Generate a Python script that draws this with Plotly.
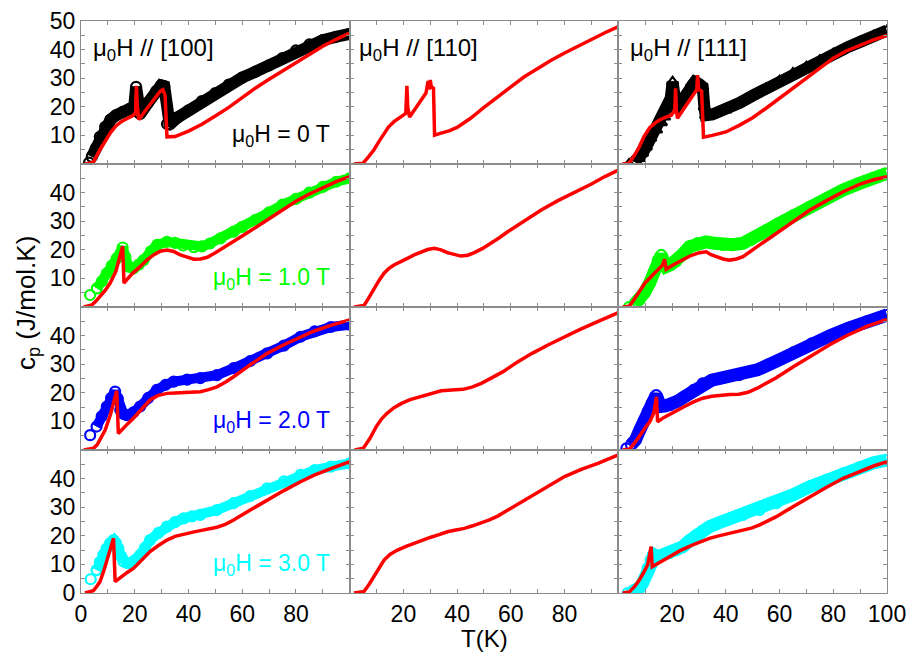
import plotly.graph_objects as go
from plotly.subplots import make_subplots

# ---------------- field along [100] ----------------
T_exp_100_0T = [3, 4, 5.5, 7, 9, 11, 13, 15.5, 18, 19.8, 20.5, 21.3, 22, 25, 28, 29.8, 31, 32,
                33, 36, 40, 45, 50, 55, 60, 65, 70, 75, 80, 85, 90, 95, 100]
cp_exp_100_0T = [0.5, 2.5, 5.5, 9.5, 13, 15.5, 17, 18.2, 19.2, 20, 27, 18, 17.5, 21.5, 25.5, 27.5, 27.2, 14,
                 13.8, 16.3, 18.8, 22, 24.8, 27.8, 30.2, 32.3, 34.5, 37, 39.7, 41.8, 43.3, 44.5, 45.5]
T_calc_100_0T = [1.5, 4.5, 7, 9, 11, 13, 15, 17, 19.5, 20.3, 20.6, 21, 21.5, 24, 27, 29.5, 30.5, 31.3,
                 32, 35, 40, 45, 50, 55, 60, 65, 70, 75, 80, 85, 90, 95, 100]
cp_calc_100_0T = [0, 0.5, 4.9, 8, 11, 13.3, 14.8, 15.8, 17, 18, 27.3, 20, 15.5, 18.7, 22.5, 25.5, 26, 24,
                  9.5, 9.6, 11.5, 13.9, 16.8, 19.8, 23.2, 26.6, 29.6, 32.5, 35.2, 38.3, 41.2, 43.6, 45.8]

T_exp_100_1T = [3.4, 5.9, 7.8, 9.6, 11.5, 13.3, 15.5, 16.5, 17.7, 19.5, 21.5, 23.3, 26, 28.3, 32, 35,
                38, 42, 45, 48, 51.9, 56.8, 60, 65, 70, 75, 80, 85, 90, 95, 100]
cp_exp_100_1T = [4.2, 6.5, 9, 11.8, 14.5, 17, 20.8, 17.5, 14.1, 13.5, 14.8, 16.4, 19.5, 21.7, 22.8, 22.4,
                 21.5, 20.9, 21.2, 22.2, 24, 26.3, 28, 30.5, 33.1, 35.8, 37.8, 40, 42, 43.8, 45]
T_calc_100_1T = [1, 4, 5.5, 7.1, 9, 10.8, 13, 15.5, 16, 17, 19, 22, 24.5, 27, 29.5, 32, 34.5, 37, 39.5,
                 42, 44.5, 47, 50, 55, 60, 65, 70, 75, 80, 85, 90, 95, 100]
cp_calc_100_1T = [0, 0.7, 2, 3.6, 5.8, 8.3, 12.5, 21.3, 8.3, 9.5, 11.6, 14.1, 16.4, 18.2, 19.5, 19.9, 19.4,
                  18.2, 17.3, 16.7, 16.8, 17.4, 19, 21.8, 24.8, 27.8, 30.9, 34, 37, 39.5, 41.7, 43.8, 45.6]

T_exp_100_2T = [3.4, 5.8, 7.7, 9.6, 11.2, 12.7, 13.7, 14.6, 15.8, 17, 19.5, 22, 25, 28.2, 31.5, 34.5,
                39.5, 44.4, 50.6, 56.8, 63, 69.3, 75.5, 81.7, 87, 93, 100]
cp_exp_100_2T = [5.2, 8.2, 11.8, 15.2, 18.2, 20.4, 18, 14, 12.6, 12.2, 13.2, 15.2, 18.2, 21, 22.8, 23.9,
                 24.6, 25.1, 26.2, 28.6, 31.1, 33.8, 36.5, 39.6, 41.5, 43, 43.8]
T_calc_100_2T = [1, 4.6, 6, 7.1, 9, 11, 13.3, 13.9, 15.5, 17.5, 19.5, 22.5, 25.7, 28.5, 32, 35, 38.2,
                 41.3, 44.4, 47.5, 50.6, 53.7, 56.8, 63, 69.3, 75.5, 81.7, 87, 93, 100]
cp_calc_100_2T = [0, 0.6, 1.8, 3.5, 7, 12.5, 20.7, 5.8, 7.5, 9.3, 11.1, 14.4, 17.5, 19, 19.8, 19.9, 20,
                  20.1, 20.4, 21.1, 22.1, 23.7, 25.6, 29.8, 33.8, 36.8, 39.6, 41.7, 43.6, 45.5]

T_exp_100_3T = [3.6, 5.8, 7, 8.3, 9.5, 10.8, 12.1, 13, 13.9, 15, 15.8, 17, 18.3, 20, 22, 23.8, 25.7,
                28.8, 32, 35, 38.2, 41.3, 44.4, 50.6, 56.8, 63, 69.3, 75.5, 81.7, 87, 93, 100]
cp_exp_100_3T = [4.8, 8, 10.8, 13.3, 15.5, 17.4, 18.5, 17.5, 15.6, 12.8, 11, 10.5, 10.4, 11.3, 13.3, 15.8,
                 18.5, 21, 23.2, 24.8, 26.1, 26.8, 27.3, 29, 31.4, 33.9, 36.6, 39, 41.3, 43, 44.2, 45.3]
T_calc_100_3T = [1.5, 4.6, 6, 7.1, 8.5, 10, 12.1, 12.7, 15, 17.2, 19.5, 22.6, 25.7, 28.8, 32, 35, 38.2,
                 41.3, 44.4, 47.5, 50.6, 53.7, 56.8, 63, 69.3, 75.5, 81.7, 87, 93, 100]
cp_calc_100_3T = [0, 0.8, 2.5, 4, 7.8, 12.2, 19.1, 4, 5.8, 7.2, 8.6, 11.5, 14.5, 16.6, 18.5, 19.8, 20.6,
                  21.2, 21.8, 22.3, 23, 24, 25.5, 29, 32.5, 35.8, 38.9, 41.3, 43.5, 45.9]

# ---------------- field along [110] (calculation only) ----------------
T_calc_110_0T = [1.5, 5, 7, 9, 11, 12.8, 14.5, 16.5, 18.5, 20.9, 21.3, 21.6, 22.3, 25, 28.4, 29.2, 29.6,
                 30, 30.4, 31.2, 31.6, 34, 37, 40, 42.5, 45, 50, 55, 60, 65, 70, 75, 80, 85, 90, 95, 100]
cp_calc_110_0T = [0, 0.3, 2.5, 4.9, 8, 10.8, 13, 14.8, 16.2, 17.7, 27.3, 20, 16.4, 20, 24.8, 29, 26, 29.4,
                  27, 26.5, 10.1, 10.8, 11.6, 12.8, 14.3, 16, 19.8, 23.5, 27, 30.5, 33.5, 36.3, 38.8, 41.2,
                  43.6, 45.9, 48]
T_calc_110_1T = [1.6, 5.3, 7, 9.1, 11, 12.8, 14.5, 16.5, 19, 21.5, 24, 26.5, 29, 31.5, 34, 36.4, 39,
                 41.4, 44, 46.4, 49.5, 52.6, 55.7, 58.8, 65, 71.3, 77.5, 83.7, 90, 95, 100]
cp_calc_110_1T = [0, 0.5, 3, 6.5, 9.4, 11.8, 13.4, 14.7, 16, 17, 18.2, 19.3, 20.1, 20.5, 20, 19, 18.3,
                  17.8, 18.1, 19, 20.5, 22.3, 24.2, 26.3, 30.2, 33.9, 37.2, 40, 43, 45.6, 47.9]
T_calc_110_2T = [1.8, 5.1, 7.5, 9.9, 12, 13.9, 16.5, 19.3, 22.5, 26, 30, 34.1, 38, 42.2, 45.5, 49, 53,
                 57.1, 62.5, 67.9, 74, 80, 85.4, 90.8, 95.5, 100]
cp_calc_110_2T = [0, 0.6, 4, 8.2, 11, 12.8, 14.8, 16.3, 17.6, 18.6, 19.8, 20.7, 21, 21.2, 22, 23.3, 25.3,
                  27.4, 30.8, 33.8, 36.8, 39.6, 42, 44.3, 46.2, 48]
T_calc_110_3T = [1.6, 5.3, 7.2, 9.1, 11, 12.8, 15, 17.8, 21, 24, 27, 30.2, 33.3, 36.4, 39.5, 42.7, 45.8,
                 48.9, 52, 55.1, 58.2, 61.3, 64.4, 67.5, 73.8, 80, 86.2, 92.4, 100]
cp_calc_110_3T = [0, 0.5, 3, 5.7, 8.8, 11.5, 13.5, 15, 16.3, 17.4, 18.5, 19.5, 20.4, 21.4, 22, 22.6, 23.5,
                  24.4, 25.6, 26.9, 28.6, 30.2, 32, 33.7, 37.2, 40.7, 43.2, 45.3, 48.3]

# ---------------- field along [111] ----------------
T_exp_111_0T = [4, 6, 7.8, 9, 10.4, 12, 14.2, 16, 17.2, 18.5, 19.5, 20.2, 20.8, 21.6, 24, 27.2, 28.5, 30,
                31.4, 32, 32.5, 35, 40, 45, 50, 55, 60, 65, 70, 75, 80, 85, 90, 95, 100]
cp_exp_111_0T = [0, 0.8, 2, 3.8, 6, 9, 11.9, 14.5, 16.5, 19, 23, 28.7, 22, 18.9, 22.5, 28.2, 28.7, 28, 27,
                 20, 17, 17.3, 18.9, 21.3, 23.9, 26.4, 29.1, 31.8, 34, 36.3, 38.5, 40.7, 42.7, 44.8, 46.7]
T_calc_111_0T = [1.5, 4, 6, 7.8, 9.5, 11.6, 13.5, 15.3, 17.5, 19.8, 21, 21.3, 21.6, 22, 25, 28.4, 29.2,
                 29.5, 29.9, 31, 31.7, 35, 40, 45, 50, 55, 60, 65, 70, 75, 80, 85, 90, 95, 100]
cp_calc_111_0T = [0, 0.3, 3, 6, 9.5, 12.6, 14.2, 15.4, 16.3, 17.1, 19, 26.5, 19, 16, 20.2, 25.2, 26, 31.1,
                  26, 25.5, 9.4, 10, 11.2, 13.5, 16.2, 19.5, 23, 26.5, 30.2, 33.8, 37, 39.6, 41.6, 43.4, 45]

T_exp_111_1T = [4, 6, 7.8, 9.7, 11.6, 13.2, 14.7, 16, 16.8, 17.8, 19.5, 21.5, 24, 26.5, 29.5, 32.7, 35.8,
                38.9, 42.5, 46.4, 49.5, 52.6, 55.7, 58.8, 65, 71.3, 77.5, 83.7, 90, 95, 100]
cp_exp_111_1T = [0, 1, 2.4, 5, 8.3, 12.2, 16.4, 18.2, 16, 14.1, 14.8, 15.9, 18.5, 21.1, 22.3, 22.8, 22.3,
                 21.7, 21.8, 22.3, 23.5, 25.2, 27, 28.7, 32, 35.1, 38, 40.9, 43.3, 45.2, 46.7]
T_calc_111_1T = [1.6, 4.1, 6, 7.8, 10, 12.8, 14.5, 16.5, 17.2, 17.8, 20, 24, 27, 30.2, 32.7, 34.5, 36.4,
                 39, 41.4, 44, 46.4, 49.5, 52.6, 55.7, 58.8, 65, 71.3, 77.5, 83.7, 90, 95, 100]
cp_calc_111_1T = [0, 0.3, 2.8, 5.4, 8.5, 11.2, 13, 14.7, 16.7, 13.2, 14.5, 16.7, 18, 19, 19.3, 18.3, 17.6,
                  16.8, 16.4, 16.8, 17.6, 19.5, 21.7, 23.7, 25.8, 30, 33.9, 37.2, 40.3, 43, 44.5, 45.6]

T_exp_111_2T = [3, 4.7, 6.4, 8, 9.7, 11, 12.4, 14.1, 15, 15.8, 17.5, 19.2, 21.9, 24.6, 28, 31.4, 34.8,
                38.2, 44.9, 51.7, 58.5, 65.3, 72, 78.8, 85.5, 92.5, 100]
cp_exp_111_2T = [0.6, 1.8, 3.5, 7, 10.5, 13.5, 16.3, 19.2, 17, 15.2, 15.4, 15.7, 17, 18.6, 21, 23.3, 24.4,
                 25.1, 26.2, 28, 30.9, 34.2, 37.3, 40, 42.5, 45, 47.2]
T_calc_111_2T = [1.6, 4.3, 6.5, 8.4, 10, 11.8, 13.2, 14.2, 14.6, 17, 20, 24.6, 28, 31.4, 34.8, 38.2, 41.5,
                 44.9, 48.3, 51.7, 55.1, 58.5, 65.3, 72, 78.8, 85.5, 92.5, 100]
cp_calc_111_2T = [0, 0.4, 3, 5.8, 7.8, 10, 13, 18.6, 9.9, 11.4, 13, 15.2, 16.8, 18.1, 18.8, 19.2, 19.4,
                  19.5, 20.2, 21.6, 23.2, 25.1, 29.2, 33.2, 36.9, 40.2, 43.2, 45.7]

T_exp_111_3T = [3.5, 5, 6.6, 8, 9, 10, 10.9, 12, 12.8, 13.7, 14.7, 16.5, 19, 21.5, 24, 26.5, 29, 31.5,
                33.9, 37, 40.2, 43.3, 46.4, 52.6, 58.8, 65, 71.3, 77.5, 83.7, 90, 95, 100]
cp_exp_111_3T = [0, 0.4, 1, 2, 3.4, 5.5, 8.6, 11.5, 13.3, 13.2, 12.7, 13.2, 13.9, 14.9, 16.2, 18.3, 20.3,
                 21.9, 23.2, 24.4, 25.5, 26.5, 27.3, 29, 31.4, 34.3, 37.2, 39.6, 41.8, 44, 45.5, 46.5]
T_calc_111_3T = [1.6, 4.1, 6, 7.8, 9.5, 10.9, 12.2, 12.6, 15, 19, 23, 27.7, 30.8, 33.9, 37, 40.2, 43.3,
                 46.4, 49.5, 52.6, 55.7, 58.8, 65, 71.3, 77.5, 83.7, 90, 95, 100]
cp_calc_111_3T = [0, 0.4, 2.2, 4.5, 7.3, 9.8, 16.2, 9.2, 10.5, 12.7, 14.8, 16.8, 18.1, 19.1, 19.9, 20.6,
                  21.2, 21.8, 22.7, 23.8, 25.1, 26.7, 30.2, 33.7, 37, 40.1, 42.6, 44.4, 45.9]

# ---------------- labels ----------------
directions = ["[100]", "[110]", "[111]"]
field_labels = ["0 T", "1.0 T", "2.0 T", "3.0 T"]
field_colors = ["#000000", "#00ff00", "#0000ff", "#00ffff"]
x_labels_by_col = [[0, 20, 40, 60, 80], [20, 40, 60, 80], [20, 40, 60, 80, 100]]
y_labels_by_row = [[10, 20, 30, 40, 50], [10, 20, 30, 40], [10, 20, 30, 40], [0, 10, 20, 30, 40]]

# (row, col) -> experimental series, calculated series, symbol
panels = {
    (1, 1): ((T_exp_100_0T, cp_exp_100_0T), (T_calc_100_0T, cp_calc_100_0T), "circle-open"),
    (2, 1): ((T_exp_100_1T, cp_exp_100_1T), (T_calc_100_1T, cp_calc_100_1T), "circle-open"),
    (3, 1): ((T_exp_100_2T, cp_exp_100_2T), (T_calc_100_2T, cp_calc_100_2T), "circle-open"),
    (4, 1): ((T_exp_100_3T, cp_exp_100_3T), (T_calc_100_3T, cp_calc_100_3T), "circle-open"),
    (1, 2): (None, (T_calc_110_0T, cp_calc_110_0T), None),
    (2, 2): (None, (T_calc_110_1T, cp_calc_110_1T), None),
    (3, 2): (None, (T_calc_110_2T, cp_calc_110_2T), None),
    (4, 2): (None, (T_calc_110_3T, cp_calc_110_3T), None),
    (1, 3): ((T_exp_111_0T, cp_exp_111_0T), (T_calc_111_0T, cp_calc_111_0T), "triangle-up-open"),
    (2, 3): ((T_exp_111_1T, cp_exp_111_1T), (T_calc_111_1T, cp_calc_111_1T), "circle-open"),
    (3, 3): ((T_exp_111_2T, cp_exp_111_2T), (T_calc_111_2T, cp_calc_111_2T), "circle-open"),
    (4, 3): ((T_exp_111_3T, cp_exp_111_3T), (T_calc_111_3T, cp_calc_111_3T), "circle-open"),
}

W, H = 909, 653
L, R, TOP, B = 81, 22, 21, 60
FONT = "Liberation Sans, Arial, sans-serif"


def px(x):
    return (x - L) / (W - L - R)


def py(y):
    return 1 - (y - TOP) / (H - TOP - B)


fig = make_subplots(rows=4, cols=3, horizontal_spacing=0, vertical_spacing=0)

for (row, col), (exp, calc, symbol) in panels.items():
    color = field_colors[row - 1]
    if exp is not None:
        T, cp = exp
        band_w = 12 if row == 1 else (13 if col == 3 else 10)
        fig.add_trace(go.Scatter(x=T[1:], y=cp[1:], mode="lines",
                                 line=dict(color=color, width=band_w),
                                 showlegend=False, hoverinfo="skip"), row=row, col=col)
        fig.add_trace(go.Scatter(x=T, y=cp, mode="markers",
                                 marker=dict(symbol=symbol, size=10, color=color,
                                             line=dict(color=color, width=2.2)),
                                 showlegend=False), row=row, col=col)
    Tc, cc = calc
    fig.add_trace(go.Scatter(x=Tc, y=cc, mode="lines",
                             line=dict(color="#ff0000", width=3.5),
                             showlegend=False), row=row, col=col)

axis_common = dict(showgrid=False, zeroline=False, showline=True, linecolor="#8c8c8c",
                   linewidth=1, mirror="ticks", ticks="inside", ticklen=4, tickwidth=1,
                   tickcolor="#8c8c8c", automargin=False, tickmode="array",
                   tickfont=dict(family=FONT, size=23, color="#000000"))
minor_x = dict(ticks="inside", tick0=0, dtick=10, ticklen=4, tickwidth=1, tickcolor="#8c8c8c")
minor_y = dict(ticks="inside", tick0=0, dtick=5, ticklen=4, tickwidth=1, tickcolor="#8c8c8c")

for row in range(1, 5):
    for col in range(1, 4):
        xlab = x_labels_by_col[col - 1]
        ylab = y_labels_by_row[row - 1]
        fig.update_xaxes(range=[0, 100], tickvals=xlab, ticktext=[str(v) for v in xlab],
                         minor=minor_x, showticklabels=(row == 4), row=row, col=col,
                         **axis_common)
        fig.update_yaxes(range=[0, 50], tickvals=ylab, ticktext=[str(v) for v in ylab],
                         minor=minor_y, showticklabels=(col == 1), row=row, col=col,
                         **axis_common)

annotations = []
for i, d in enumerate(directions):
    annotations.append(dict(text="\u03bc<sub>0</sub>H // " + d, x=px([91, 357, 628][i]), y=py(49),
                            xref="paper", yref="paper", xanchor="left", yanchor="middle",
                            showarrow=False, font=dict(family=FONT, size=24, color="#000000")))
for i, lab in enumerate(field_labels):
    annotations.append(dict(text="\u03bc<sub>0</sub>H = " + lab, x=px(332), y=py(135 + 143 * i),
                            xref="paper", yref="paper", xanchor="right", yanchor="middle",
                            showarrow=False, font=dict(family=FONT, size=23, color=field_colors[i])))
annotations.append(dict(text="c<sub>p</sub> (J/mol.K)", x=px(27), y=py(303), textangle=-90,
                        xref="paper", yref="paper", xanchor="center", yanchor="middle",
                        showarrow=False, font=dict(family=FONT, size=26, color="#000000")))
annotations.append(dict(text="T(K)", x=px(484), y=py(638), xref="paper", yref="paper",
                        xanchor="center", yanchor="middle", showarrow=False,
                        font=dict(family=FONT, size=24, color="#000000")))

fig.update_layout(width=W, height=H, margin=dict(l=L, r=R, t=TOP, b=B, autoexpand=False),
                  paper_bgcolor="white", plot_bgcolor="white", showlegend=False,
                  annotations=annotations)

fig.write_html("out.html")
